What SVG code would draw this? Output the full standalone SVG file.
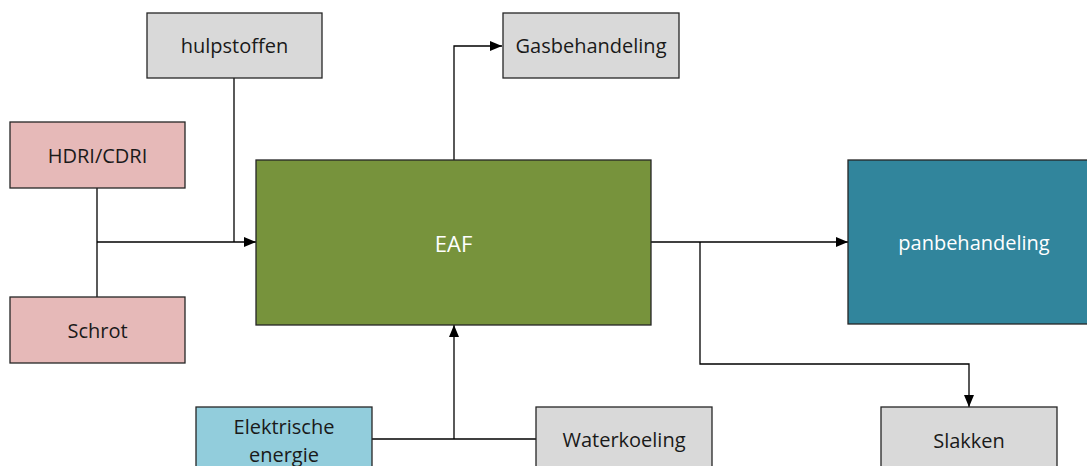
<svg xmlns="http://www.w3.org/2000/svg" width="1087" height="466" viewBox="0 0 1087 466">
<style>
.box{stroke:#262626;stroke-width:1.3}
.grey{fill:#D9D9D9}
.pink{fill:#E6B9B8}
.green{fill:#77933C}
.teal{fill:#31859C}
.blue{fill:#92CDDC}
text{font-family:"Open Sans","Liberation Sans",sans-serif;font-size:20px;fill:#1a1a1a;text-anchor:middle;dominant-baseline:central}
text.w{fill:#ffffff}
text.big{font-size:22px}
.c{fill:none;stroke:#000;stroke-width:1.3}
</style>
<defs>
<marker id="ah" viewBox="0 0 12 10" refX="12" refY="5" markerWidth="12" markerHeight="10" markerUnits="userSpaceOnUse" orient="auto">
<path d="M0,0 L12,5 L0,10 Z" fill="#000"/>
</marker>
</defs>
<rect width="1087" height="466" fill="#ffffff"/>
<g id="connectors">
<path class="c" d="M97,188 V297"/>
<path class="c" d="M97,242 H256" marker-end="url(#ah)"/>
<path class="c" d="M234,78 V242"/>
<path class="c" d="M454,160 V46 H502" marker-end="url(#ah)"/>
<path class="c" d="M372,439 H536"/>
<path class="c" d="M454,439 V325" marker-end="url(#ah)"/>
<path class="c" d="M651,242 H848" marker-end="url(#ah)"/>
<path class="c" d="M700,242 V364 H969 V407" marker-end="url(#ah)"/>
</g>
<g id="hulpstoffen"><rect class="box grey" x="147" y="13" width="175" height="65"/><text x="234.5" y="45.5">hulpstoffen</text></g>
<g id="hdri"><rect class="box pink" x="10" y="122" width="175" height="66"/><text x="97.5" y="155">HDRI/CDRI</text></g>
<g id="schrot"><rect class="box pink" x="10" y="297" width="175" height="66"/><text x="97.5" y="330">Schrot</text></g>
<g id="eaf"><rect class="box green" x="256" y="160" width="395" height="165"/><text class="w big" x="453.5" y="242.5">EAF</text></g>
<g id="gasbehandeling"><rect class="box grey" x="503" y="13" width="176" height="65"/><text x="591" y="45.5">Gasbehandeling</text></g>
<g id="panbehandeling"><rect class="box teal" x="848" y="160" width="252" height="164"/><text class="w" x="974" y="242.5">panbehandeling</text></g>
<g id="elektrische"><rect class="box blue" x="196" y="407" width="176" height="70"/><text x="284" y="426">Elektrische</text><text x="284" y="454">energie</text></g>
<g id="waterkoeling"><rect class="box grey" x="536" y="407" width="176" height="70"/><text x="624" y="439">Waterkoeling</text></g>
<g id="slakken"><rect class="box grey" x="881" y="407" width="176" height="70"/><text x="969" y="440">Slakken</text></g>
</svg>
